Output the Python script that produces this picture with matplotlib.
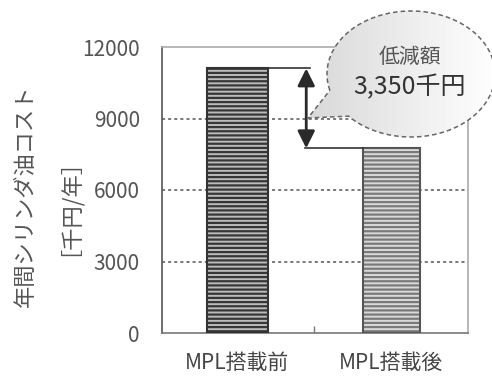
import numpy as np
import matplotlib.pyplot as plt
from matplotlib.path import Path
from matplotlib.patches import PathPatch

plt.rcParams['font.family'] = ['Noto Sans CJK JP', 'DejaVu Sans']
plt.rcParams['hatch.linewidth'] = 1.6

labels = ['MPL搭載前', 'MPL搭載後']
cost = [11100, 7750]          # 年間シリンダ油コスト [千円/年]
reduction = cost[0] - cost[1]  # 3,350
yticks = [0, 3000, 6000, 9000, 12000]

W, H = 492, 382
fig = plt.figure(figsize=(W / 100, H / 100), dpi=100)
ax = fig.add_axes([162 / W, 1 - 333 / H, 306 / W, 286 / H])

x = np.arange(len(labels))
ax.set_xlim(-0.49, 1.5)
ax.set_ylim(0, 12000)

# grid
for v in yticks[1:-1]:
    ax.axhline(v, color='#555555', lw=1.1, ls=(0, (2, 2)), zorder=1)

# striped bars: hatch first, then outline
ax.bar(x[0], cost[0], width=0.4, color='#bcbcbc', hatch='----',
       edgecolor='#363636', lw=0, zorder=2)
ax.bar(x[1], cost[1], width=0.37, color='#dadada', hatch='----',
       edgecolor='#7a7a7a', lw=0, zorder=2)
ax.bar(x[0], cost[0], width=0.4, fill=False, edgecolor='#333333', lw=1.5, zorder=3)
ax.bar(x[1], cost[1], width=0.37, fill=False, edgecolor='#555555', lw=1.5, zorder=3)

# difference marker
ax.plot([0.2, 0.47], [cost[0], cost[0]], color='#333333', lw=1.2, zorder=3)
ax.plot([0.44, 1 - 0.185], [cost[1], cost[1]], color='#333333', lw=1.2, zorder=3)
ax.annotate('', xy=(0.448, cost[1]), xytext=(0.448, cost[0]),
            arrowprops=dict(arrowstyle='<|-|>', color='#2a2a2a', lw=2,
                            mutation_scale=26, shrinkA=0, shrinkB=0), zorder=4)

ax.set_yticks(yticks)
ax.set_yticklabels([str(v) for v in yticks])
ax.tick_params(axis='y', length=0, pad=16, labelsize=15, labelcolor='#555555')
ax.set_xticks(x)
ax.set_xticklabels(labels)
ax.tick_params(axis='x', length=0, pad=14, labelsize=15, labelcolor='#444444')
ax.set_xticks([0.5], minor=True)
ax.tick_params(axis='x', which='minor', direction='in', length=5, width=1, color='#777777')

ax.spines['left'].set_color('#555555')
ax.spines['bottom'].set_color('#777777')
ax.spines['top'].set_color('#aaaaaa')
ax.spines['right'].set_color('#aaaaaa')
for s in ax.spines.values():
    s.set_linewidth(1.2)

fig.text(42 / W, 1 - 196 / H, '年間シリンダ油コスト\n［千円/年］', rotation=90,
         ha='center', va='center', multialignment='center', fontsize=16,
         color='#555555', linespacing=1.5)

# speech bubble in pixel coordinates
ov = fig.add_axes([0, 0, 1, 1], zorder=5)
ov.set_xlim(0, W)
ov.set_ylim(H, 0)
ov.axis('off')

cx, cy, a, b = 411, 74, 84, 63
t1, t2 = np.radians(165), np.radians(138)
t = np.linspace(t1, t2 + 2 * np.pi, 200)
px = cx + a * np.cos(t)
py = cy + b * np.sin(t)
pts = np.column_stack([np.r_[px, 308], np.r_[py, 118]])
pts = np.vstack([pts, pts[:1]])
bubble = Path(pts, closed=True)
patch = PathPatch(bubble, facecolor='none', edgecolor='#666666', lw=1.1,
                  ls=(0, (3, 2)))
ov.add_patch(patch)
grad = np.linspace(0.84, 1.0, 100)[None, :] * np.ones((20, 1))
img = ov.imshow(grad, cmap='gray', vmin=0, vmax=1, extent=[300, 500, 140, 8],
                aspect='auto', zorder=0)
img.set_clip_path(PathPatch(bubble, transform=ov.transData))
ov.set_xlim(0, W)
ov.set_ylim(H, 0)

ov.text(410, 57, '低減額', ha='center', va='center', fontsize=15, color='#555555')
ov.text(410, 87, f'{reduction:,}千円', ha='center', va='center', fontsize=18,
        color='#333333')

fig.savefig('out.png', dpi=100)
